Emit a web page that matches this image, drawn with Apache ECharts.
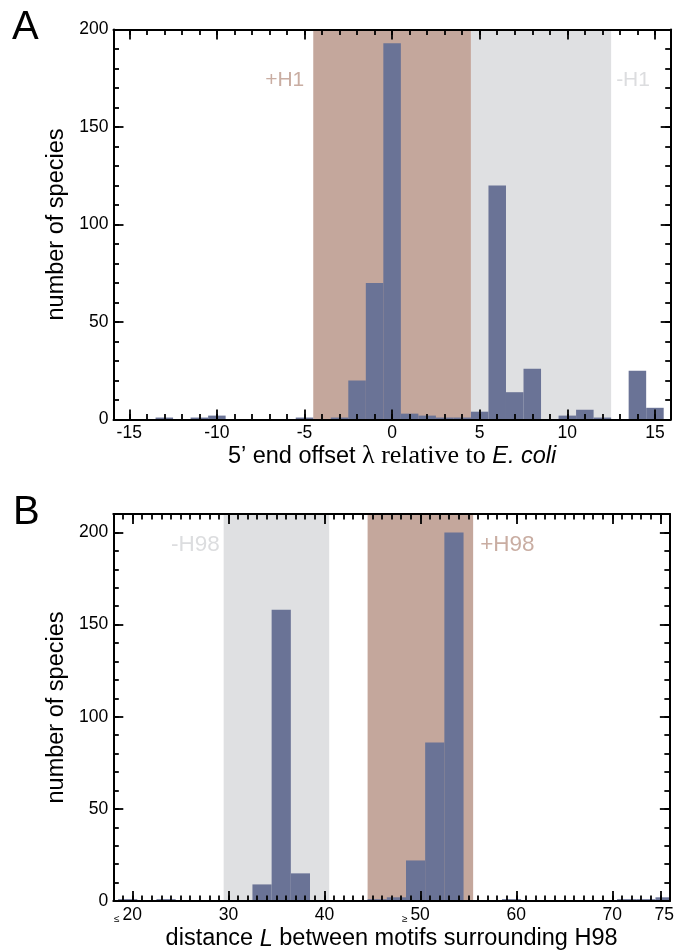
<!DOCTYPE html>
<html><head><meta charset="utf-8">
<script src="https://cdn.jsdelivr.net/npm/echarts@6/dist/echarts.min.js"></script>
<style>html,body{margin:0;padding:0;background:#fff}#c{width:677px;height:952px}</style>
</head><body><div id="c"></div>
<script>
// ---------- Panel A data ----------
const aBins   = [-13, -11, -10, -5, -3, -2, -1, 0, 1, 2, 3, 4, 5, 6, 7, 8, 10, 11, 12, 14, 15];
const aCounts = [  1,   1,   2,  1,  1, 20, 70, 193, 3, 2, 1, 1, 4, 120, 14, 26, 2, 5, 1, 25, 6];
const aRegionStart = [-4.5, 4.5];
const aRegionEnd   = [4.5, 12.5];
const aRegionLabels = ['+H1', '-H1'];
const aXTicks = [-15, -10, -5, 0, 5, 10, 15];
const aYTicks = [0, 50, 100, 150, 200];
// ---------- Panel B data ----------
const bBins   = [19.5, 23.5, 33.5, 35.5, 37.5, 45.5, 47.5, 49.5, 51.5, 53.5, 59.5, 71.5, 73.5, 75.5];
const bCounts = [   1,    1,    9,  158,   15,    1,    2,   22,   86,  200,    1,    1,    1,    2];
const bRegionStart = [29.5, 44.5];
const bRegionEnd   = [40.5, 55.5];
const bRegionLabels = ['-H98', '+H98'];
const bXTicks = [20, 30, 40, 50, 60, 70, 75];
const bXTickLabels = ['≤ 20', '30', '40', '≥ 50', '60', '70', '75'];
const bYTicks = [0, 50, 100, 150, 200];

const BAR = '#6a7396', PINK = '#c4a79c', GREY = '#dfe0e2';
const SANS = 'Liberation Sans', SERIF = 'Liberation Serif';

function range(a, b, step) { const r = []; for (let v = a; v <= b + 1e-9; v += step) r.push(v); return r; }

function barRenderer(half) {
  return function (params, api) {
    const c = api.value(0), v = api.value(1);
    const p0 = api.coord([c - half, v]);
    const p1 = api.coord([c + half, 0]);
    const cs = params.coordSys;
    const shape = echarts.graphic.clipRectByRect(
      {x: p0[0], y: p0[1], width: p1[0] - p0[0], height: p1[1] - p0[1]},
      {x: cs.x, y: cs.y, width: cs.width, height: cs.height});
    return shape && {type: 'rect', shape: shape, style: {fill: BAR}};
  };
}
function regionRenderer(colors, labels, labelCfg) {
  return function (params, api) {
    const i = params.dataIndex;
    const cs = params.coordSys;
    const x0 = api.coord([api.value(0), 0])[0];
    const x1 = api.coord([api.value(1), 0])[0];
    const cfg = labelCfg[i];
    return {type: 'group', children: [
      {type: 'rect', shape: {x: x0, y: cs.y, width: x1 - x0, height: cs.height}, style: {fill: colors[i]}},
      {type: 'text', x: cfg.side === 'left' ? x0 - cfg.gap : x1 + cfg.gap, y: cs.y + cfg.dy,
       style: {text: labels[i], fill: cfg.color, fontSize: cfg.size, fontFamily: SANS,
               align: cfg.side === 'left' ? 'right' : 'left', verticalAlign: 'middle'}}
    ]};
  };
}

const lineSt = {color: '#000', width: 2};
const tickSt = {color: '#000', width: 1.8};
function lineOn() { return {show: true, onZero: false, lineStyle: lineSt}; }
function lineOff() { return {show: false, onZero: false}; }

function xAxes(grid, min, max, majors, minors, label, name, nameGap, rich) {
  const base = {type: 'value', gridIndex: grid, min: min, max: max, z: 10, splitLine: {show: false}};
  return [
    Object.assign({}, base, {position: 'bottom', axisLine: lineOn(),
      axisTick: {show: true, inside: true, length: 10, lineStyle: tickSt, customValues: majors},
      axisLabel: Object.assign({show: true, customValues: majors, color: '#000', fontSize: 17.5, fontFamily: SANS, margin: 5}, label),
      name: name, nameLocation: 'middle', nameGap: nameGap, nameTextStyle: {color: '#000', rich: rich}}),
    Object.assign({}, base, {position: 'bottom', axisLine: lineOff(),
      axisTick: {show: true, inside: true, length: 5.5, lineStyle: tickSt, customValues: minors}, axisLabel: {show: false}}),
    Object.assign({}, base, {position: 'top', axisLine: lineOn(),
      axisTick: {show: true, inside: true, length: 10, lineStyle: tickSt, customValues: majors}, axisLabel: {show: false}}),
    Object.assign({}, base, {position: 'top', axisLine: lineOff(),
      axisTick: {show: true, inside: true, length: 5.5, lineStyle: tickSt, customValues: minors}, axisLabel: {show: false}})
  ];
}
function yAxes(grid, max, majors, minors) {
  const base = {type: 'value', gridIndex: grid, min: 0, max: max, z: 10, splitLine: {show: false}};
  return [
    Object.assign({}, base, {position: 'left', axisLine: lineOn(),
      axisTick: {show: true, inside: true, length: 10, lineStyle: tickSt, customValues: majors},
      axisLabel: {show: true, customValues: majors, color: '#000', fontSize: 17.5, fontFamily: SANS, margin: 5},
      name: 'number of species', nameLocation: 'middle', nameGap: 32,
      nameTextStyle: {color: '#000', fontSize: 23.5, fontFamily: SANS}}),
    Object.assign({}, base, {position: 'left', axisLine: lineOff(),
      axisTick: {show: true, inside: true, length: 5.5, lineStyle: tickSt, customValues: minors}, axisLabel: {show: false}}),
    Object.assign({}, base, {position: 'right', axisLine: lineOn(),
      axisTick: {show: true, inside: true, length: 10, lineStyle: tickSt, customValues: majors}, axisLabel: {show: false}}),
    Object.assign({}, base, {position: 'right', axisLine: lineOff(),
      axisTick: {show: true, inside: true, length: 5.5, lineStyle: tickSt, customValues: minors}, axisLabel: {show: false}})
  ];
}

const aXMin = -15.9, aXMax = 15.9, aYMax = 200;
const bXMin = 18, bXMax = 76, bYMax = 210;

const richA = {
  a: {fontFamily: SANS, fontSize: 23.5, lineHeight: 28, color: '#000'},
  b: {fontFamily: SERIF, fontSize: 26, lineHeight: 28, color: '#000'},
  c: {fontFamily: SANS, fontStyle: 'italic', fontSize: 23.5, lineHeight: 28, color: '#000'}
};
const richB = {
  a: {fontFamily: SANS, fontSize: 23.5, lineHeight: 28, color: '#000'},
  c: {fontFamily: SANS, fontStyle: 'italic', fontSize: 23.5, lineHeight: 28, color: '#000'}
};

const bLabel = {
  formatter: function (v) {
    const t = bXTickLabels[bXTicks.indexOf(v)];
    if (t === undefined) return '';
    if (t[0] === '≤' || t[0] === '≥') return '{s|' + t[0] + '}{n|' + t.slice(2) + '}';
    if (v === 75) return '{r|' + t + '}';
    return t;
  },
  rich: {
    s: {fontFamily: SANS, fontSize: 10, color: '#000', verticalAlign: 'bottom', padding: [0, 3, 0, 0]},
    n: {fontFamily: SANS, fontSize: 17.5, color: '#000', padding: [0, 9, 0, 0]},
    r: {fontFamily: SANS, fontSize: 17.5, color: '#000', padding: [0, 0, 0, 8]}
  }
};

const option = {
  animation: false,
  backgroundColor: '#fff',
  grid: [
    {left: 113.5, top: 29.5, width: 557.2, height: 390},
    {left: 113.3, top: 514, width: 558.4, height: 388.7}
  ],
  xAxis: [].concat(
    xAxes(0, aXMin, aXMax, aXTicks, range(-15, 15, 1), {}, '{a|5’ end offset }{b|λ relative to }{c|E. coli}', 22, richA),
    xAxes(1, bXMin, bXMax, bXTicks, range(19, 75, 1), bLabel, '{a|distance }{c|L}{a| between motifs surrounding H98}', 24, richB)
  ),
  yAxis: [].concat(
    yAxes(0, aYMax, aYTicks, range(10, 190, 10)),
    yAxes(1, bYMax, bYTicks, range(10, 200, 10))
  ),
  graphic: [
    {type: 'text', x: 12, y: 28, style: {text: 'A', fontSize: 40, fontFamily: SANS, fill: '#000', verticalAlign: 'middle'}},
    {type: 'text', x: 13, y: 513, style: {text: 'B', fontSize: 40, fontFamily: SANS, fill: '#000', verticalAlign: 'middle'}}
  ],
  series: [
    {type: 'custom', xAxisIndex: 0, yAxisIndex: 0, z: 1, silent: true,
     renderItem: regionRenderer([PINK, GREY], aRegionLabels, [
       {side: 'left', gap: 9, dy: 50.5, color: '#c9ada2', size: 21},
       {side: 'right', gap: 5, dy: 50.5, color: '#dcdddf', size: 21}]),
     data: aRegionStart.map((s, i) => [s, aRegionEnd[i]])},
    {type: 'custom', xAxisIndex: 0, yAxisIndex: 0, z: 2, silent: true,
     renderItem: barRenderer(0.5), data: aBins.map((b, i) => [b, aCounts[i]])},
    {type: 'custom', xAxisIndex: 4, yAxisIndex: 4, z: 1, silent: true,
     renderItem: regionRenderer([GREY, PINK], bRegionLabels, [
       {side: 'left', gap: 4, dy: 31, color: '#dcdddf', size: 22.5},
       {side: 'right', gap: 7, dy: 31, color: '#c9ada2', size: 22.5}]),
     data: bRegionStart.map((s, i) => [s, bRegionEnd[i]])},
    {type: 'custom', xAxisIndex: 4, yAxisIndex: 4, z: 2, silent: true,
     renderItem: barRenderer(1), data: bBins.map((b, i) => [b, bCounts[i]])}
  ]
};
const chart = echarts.init(document.getElementById('c'), null, {renderer: 'canvas'});
chart.setOption(option);
</script></body></html>
